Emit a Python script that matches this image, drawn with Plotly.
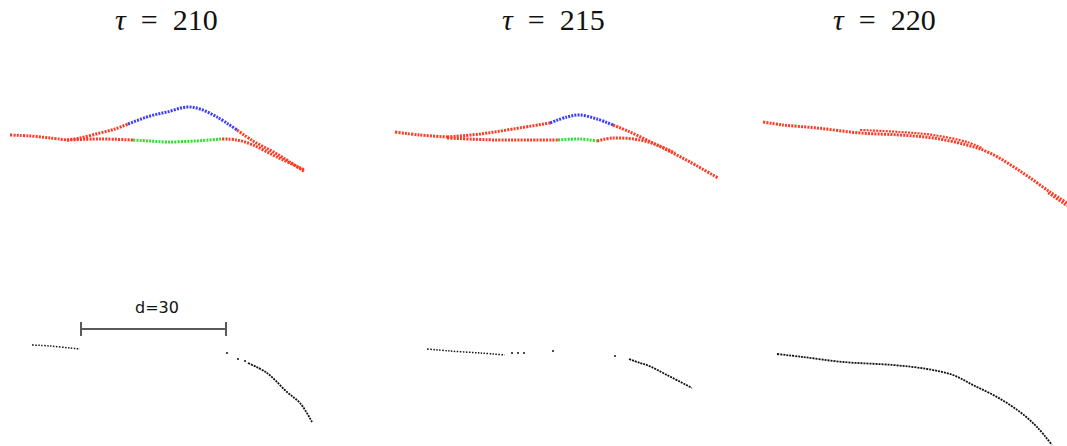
import plotly.graph_objects as go

W, H = 1067, 446

# ---------------- data (local panel units: x to the right, y downward) ----------------
# Panel tau=210 (top)
p1_left_x = [10, 30, 50, 67]
p1_left_y = [95, 96, 98, 100]
p1_up_red_x = [67, 80, 100, 115, 128]
p1_up_red_y = [100, 98, 93, 89, 84]
p1_blue_x = [128, 150, 167, 187, 200, 217, 237]
p1_blue_y = [84, 76, 72, 67, 69, 77, 90]
p1_up_red2_x = [237, 253, 277, 305]
p1_up_red2_y = [90, 101, 114, 132]
p1_low_red_x = [67, 100, 133]
p1_low_red_y = [100, 99, 100]
p1_green_x = [133, 150, 167, 195, 222]
p1_green_y = [100, 101, 102, 101, 99]
p1_low_red2_x = [222, 237, 253, 277, 305]
p1_low_red2_y = [99, 100, 105, 117, 130]

# Panel tau=215 (top)
p2_left_x = [10, 35, 62]
p2_left_y = [92, 95, 97]
p2_up_red_x = [62, 95, 128, 165]
p2_up_red_y = [97, 94, 89, 83]
p2_blue_x = [165, 182, 195, 212, 228]
p2_blue_y = [83, 77, 75, 79, 85]
p2_up_red2_x = [228, 245, 278, 305, 333]
p2_up_red2_y = [85, 92, 108, 122, 138]
p2_low_red_x = [62, 112, 145, 173]
p2_low_red_y = [98, 100, 100, 100]
p2_green_x = [173, 195, 212]
p2_green_y = [100, 99, 101]
p2_low_red2_x = [212, 228, 255, 272, 290]
p2_low_red2_y = [101, 98, 100, 105, 113]

# Panel tau=220 (top)
p3_x = [13, 33, 67, 110, 150, 183, 217, 240, 273, 300, 317]
p3_y = [82, 85, 88, 93, 95, 98, 105, 113, 133, 152, 163]
p3_b_x = [110, 150, 183, 217, 232]
p3_b_y = [90, 92, 95, 102, 108]
p3_c_x = [298, 317]
p3_c_y = [153, 166]

# Bottom panels (black)
p4_seg_x = [32, 50, 70, 80]
p4_seg_y = [55, 56, 58, 59]
p4_dots_x = [227, 238, 245]
p4_dots_y = [63, 69, 71]
p4_curve_x = [248, 267, 287, 300, 312]
p4_curve_y = [73, 83, 102, 113, 132]
scale_x = [81, 226]
scale_y = [39, 39]
scale_label = "d=30"

p5_seg_x = [42, 65, 95, 120]
p5_seg_y = [59, 61, 63, 65]
p5_dots_x = [127, 133, 139, 168, 230]
p5_dots_y = [63, 63, 63, 61, 66]
p5_curve_x = [244, 255, 262, 282, 307]
p5_curve_y = [69, 73, 75, 85, 98]

p6_x = [27, 53, 93, 143, 177, 203, 223, 247, 270, 287, 302]
p6_y = [64, 67, 72, 75, 79, 85, 95, 107, 122, 137, 155]

titles = ["<i>τ</i>&nbsp; =&nbsp; 210", "<i>τ</i>&nbsp; =&nbsp; 215", "<i>τ</i>&nbsp; =&nbsp; 220"]
title_x = [166, 553, 884]

# ---------------- layout of panels (pixels) ----------------
cols = [(0, 320), (385, 335), (750, 317)]
rows = [(40, 190), (290, 156)]

RED = "#ff3a22"
BLUE = "#3c3cff"
GREEN = "#2fe02f"
BLACK = "#111111"

fig = go.Figure()
layout = dict(width=W, height=H, margin=dict(l=0, r=0, t=0, b=0),
              paper_bgcolor="white", plot_bgcolor="white", showlegend=False)

axis_idx = 0
panel_axes = {}
for r, (y0, h) in enumerate(rows):
    for c, (x0, w) in enumerate(cols):
        axis_idx += 1
        sfx = "" if axis_idx == 1 else str(axis_idx)
        layout["xaxis" + sfx] = dict(domain=[x0 / W, (x0 + w) / W], range=[0, w],
                                     visible=False, anchor="y" + sfx, fixedrange=True)
        layout["yaxis" + sfx] = dict(domain=[1 - (y0 + h) / H, 1 - y0 / H], range=[h, 0],
                                     visible=False, anchor="x" + sfx, fixedrange=True)
        panel_axes[(r, c)] = ("x" + sfx, "y" + sfx)


def dotted(panel, xs, ys, color, width=3, dash="2px,1.2px"):
    xa, ya = panel_axes[panel]
    fig.add_trace(go.Scatter(x=xs, y=ys, mode="lines", xaxis=xa, yaxis=ya,
                             line=dict(color=color, width=width, dash=dash, shape="spline"),
                             hoverinfo="skip"))


def dots(panel, xs, ys, color, size=2.5):
    xa, ya = panel_axes[panel]
    fig.add_trace(go.Scatter(x=xs, y=ys, mode="markers", xaxis=xa, yaxis=ya,
                             marker=dict(color=color, size=size), hoverinfo="skip"))


# top row
dotted((0, 0), p1_left_x, p1_left_y, RED)
dotted((0, 0), p1_up_red_x, p1_up_red_y, RED)
dotted((0, 0), p1_blue_x, p1_blue_y, BLUE)
dotted((0, 0), p1_up_red2_x, p1_up_red2_y, RED)
dotted((0, 0), p1_low_red_x, p1_low_red_y, RED)
dotted((0, 0), p1_green_x, p1_green_y, GREEN)
dotted((0, 0), p1_low_red2_x, p1_low_red2_y, RED)

dotted((0, 1), p2_left_x, p2_left_y, RED)
dotted((0, 1), p2_up_red_x, p2_up_red_y, RED)
dotted((0, 1), p2_blue_x, p2_blue_y, BLUE)
dotted((0, 1), p2_up_red2_x, p2_up_red2_y, RED)
dotted((0, 1), p2_low_red_x, p2_low_red_y, RED)
dotted((0, 1), p2_green_x, p2_green_y, GREEN)
dotted((0, 1), p2_low_red2_x, p2_low_red2_y, RED)

dotted((0, 2), p3_x, p3_y, RED)
dotted((0, 2), p3_b_x, p3_b_y, RED, width=2.2)
dotted((0, 2), p3_c_x, p3_c_y, RED, width=2.2)

# bottom row
dotted((1, 0), p4_seg_x, p4_seg_y, BLACK, width=1.5, dash="1.5px,1.5px")
dots((1, 0), p4_dots_x, p4_dots_y, BLACK, size=2)
dotted((1, 0), p4_curve_x, p4_curve_y, BLACK, width=1.8, dash="2px,1px")

xa, ya = panel_axes[(1, 0)]
fig.add_trace(go.Scatter(x=scale_x, y=scale_y, mode="lines+markers", xaxis=xa, yaxis=ya,
                         line=dict(color="#5a5a5a", width=2.2),
                         marker=dict(symbol="line-ns", size=10, color="#5a5a5a",
                                     line=dict(color="#5a5a5a", width=2)),
                         hoverinfo="skip"))
fig.add_annotation(x=sum(scale_x) / 2 + 3, y=scale_y[0] - 22, xref=xa, yref=ya,
                   text=scale_label, showarrow=False,
                   font=dict(family="DejaVu Sans", size=16, color="#111111"))

dotted((1, 1), p5_seg_x, p5_seg_y, BLACK, width=1.5, dash="1.5px,1.5px")
dots((1, 1), p5_dots_x, p5_dots_y, BLACK, size=2)
dotted((1, 1), p5_curve_x, p5_curve_y, BLACK, width=1.8, dash="2px,1px")

dotted((1, 2), p6_x, p6_y, BLACK, width=1.8, dash="2px,1px")

for t, tx in zip(titles, title_x):
    fig.add_annotation(x=tx / W, y=1 - 19 / H, xref="paper", yref="paper", text=t,
                       showarrow=False, xanchor="center", yanchor="middle",
                       font=dict(family="Liberation Serif", size=30, color="#111111"))

fig.update_layout(**layout)
fig.write_html("out.html", config={"displayModeBar": False},
               post_script="document.body.style.margin='0';")
